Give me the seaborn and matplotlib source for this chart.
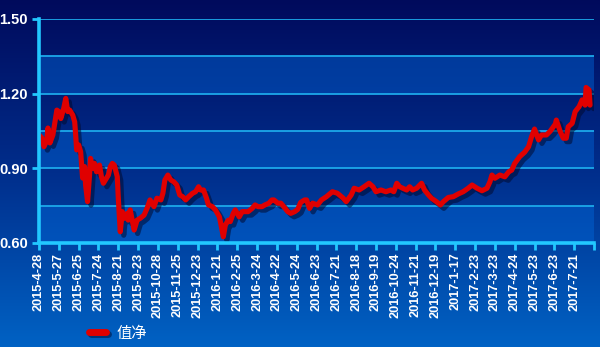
import numpy as np
import pandas as pd
import matplotlib
matplotlib.use("Agg")
import matplotlib.pyplot as plt
import seaborn as sns
from matplotlib import patheffects as pe
from matplotlib.colors import LinearSegmentedColormap
from matplotlib.lines import Line2D

# trading-day index since 2015-4-28
day = [0, 3, 5, 8, 9, 11, 14, 18, 20, 22, 25, 27, 29, 31, 34, 36, 37, 38, 40, 42,
       43, 44, 46, 47, 49, 51, 52, 54, 56, 58, 61, 63, 65, 68, 70, 72, 74, 76, 79, 80,
       82, 84, 86, 89, 90, 92, 96, 99, 102, 106, 109, 112, 116, 119, 123, 125, 127, 130, 133, 136,
       139, 142, 145, 148, 151, 155, 158, 161, 163, 166, 169, 171, 175, 178, 182, 183, 186, 188, 191, 193,
       196, 198, 202, 205, 208, 211, 215, 218, 221, 225, 228, 232, 235, 237, 241, 244, 247, 251, 254, 258,
       261, 264, 268, 270, 273, 276, 281, 285, 290, 296, 301, 307, 310, 315, 318, 323, 328, 333, 337, 340,
       345, 350, 355, 358, 361, 364, 367, 371, 374, 377, 381, 386, 389, 393, 396, 401, 405, 408, 413, 418,
       423, 428, 433, 437, 442, 447, 452, 455, 457, 460, 465, 470, 474, 477, 480, 485, 490, 494, 497, 500,
       504, 507, 512, 516, 521, 522, 526, 529, 532, 534, 538, 541, 545, 548, 551, 552, 555, 556]
nav = [1.034, 1.022, 0.987, 1.014, 1.062, 1.002, 1.034, 1.134, 1.128, 1.100, 1.142, 1.181, 1.128, 1.134, 1.114, 1.087, 1.034, 0.974, 0.994, 0.967,
       0.913, 0.861, 0.907, 0.833, 0.766, 0.873, 0.940, 0.900, 0.920, 0.886, 0.913, 0.866, 0.840, 0.860, 0.873, 0.907, 0.920, 0.913, 0.866, 0.781,
       0.645, 0.726, 0.699, 0.719, 0.692, 0.733, 0.652, 0.692, 0.699, 0.712, 0.739, 0.773, 0.746, 0.780, 0.773, 0.800, 0.853, 0.873, 0.853, 0.846,
       0.833, 0.793, 0.786, 0.773, 0.786, 0.800, 0.806, 0.826, 0.813, 0.813, 0.780, 0.753, 0.746, 0.733, 0.705, 0.686, 0.625, 0.672, 0.692, 0.686,
       0.719, 0.733, 0.705, 0.726, 0.726, 0.726, 0.739, 0.753, 0.746, 0.746, 0.753, 0.760, 0.773, 0.773, 0.760, 0.760, 0.746, 0.726, 0.719, 0.726,
       0.735, 0.763, 0.773, 0.773, 0.739, 0.760, 0.753, 0.773, 0.786, 0.806, 0.800, 0.780, 0.766, 0.793, 0.820, 0.813, 0.826, 0.840, 0.826, 0.806,
       0.813, 0.806, 0.813, 0.806, 0.840, 0.826, 0.820, 0.813, 0.826, 0.813, 0.820, 0.840, 0.813, 0.793, 0.780, 0.766, 0.753, 0.766, 0.783, 0.786,
       0.797, 0.806, 0.820, 0.833, 0.820, 0.810, 0.820, 0.846, 0.873, 0.860, 0.873, 0.866, 0.886, 0.893, 0.920, 0.947, 0.965, 0.987, 1.027, 1.058,
       1.014, 1.034, 1.034, 1.050, 1.078, 1.094, 1.047, 1.021, 1.021, 1.067, 1.081, 1.128, 1.148, 1.175, 1.154, 1.225, 1.215, 1.154]

tick_labels = ["2015-4-28", "2015-5-27", "2015-6-25", "2015-7-24", "2015-8-21", "2015-9-23",
               "2015-10-28", "2015-11-25", "2015-12-23", "2016-1-21", "2016-2-25", "2016-3-24",
               "2016-4-22", "2016-5-24", "2016-6-23", "2016-7-21", "2016-8-18", "2016-9-19",
               "2016-10-24", "2016-11-21", "2016-12-19", "2017-1-17", "2017-2-23", "2017-3-23",
               "2017-4-24", "2017-5-23", "2017-6-23", "2017-7-21"]
y_labels = ["0.60", "0.90", "1.20", "1.50"]
series_name = "值净"

sns.set_theme(style="white")
plt.rcParams['font.family'] = ['Liberation Sans', 'Noto Sans CJK SC', 'DejaVu Sans']

fig = plt.figure(figsize=(6, 3.47), dpi=100)

# background gradient
bg = fig.add_axes([0, 0, 1, 1], zorder=-10)
grad = np.linspace(0, 1, 256).reshape(-1, 1)
cmap = LinearSegmentedColormap.from_list('bg', ['#000a5c', '#012e8c', '#0062c4'])
bg.imshow(grad, aspect='auto', cmap=cmap, extent=[0, 1, 0, 1], origin='upper')
bg.set_xlim(0, 1); bg.set_ylim(0, 1)
bg.axis('off')

ax = fig.add_axes([39 / 600, 1 - 243 / 347, (594 - 39) / 600, (243 - 19) / 347])
ax.patch.set_alpha(0)

step = 20
n_ticks = len(tick_labels) + 1
xmax = step * (n_ticks - 1)

# alternating bands + gridlines
levels = np.round(np.arange(0.60, 1.5001, 0.15), 2)
for i, lo in enumerate(levels[:-1]):
    if i % 2 == 0:
        ax.axhspan(lo, lo + 0.15, color='#0066d8', alpha=0.45, lw=0, zorder=0)
for lv in levels:
    ax.axhline(lv, color='#1ca8ea', lw=1.3, zorder=1)

df = pd.DataFrame({'day': day, 'nav': nav, 'series': series_name})
sns.lineplot(data=df, x='day', y='nav', hue='series', palette=['#e00000'], lw=3.7,
             ax=ax, legend=False, zorder=3)
for ln in ax.get_lines():
    if ln.get_color() in ('#e00000',):
        ln.set_solid_joinstyle('round')
        ln.set_solid_capstyle('round')
        ln.set_path_effects([pe.SimpleLineShadow(offset=(2.5, -2.5), shadow_color='#000a30', alpha=0.55),
                             pe.Normal()])

ax.set_xlim(0, xmax)
ax.set_ylim(0.60, 1.50)
ax.set_xticks(np.arange(0, xmax + 1, step))
ax.set_xticklabels(tick_labels + [""], rotation=90, fontweight='bold')
ax.set_yticks([0.60, 0.90, 1.20, 1.50])
ax.set_yticklabels(y_labels, fontweight='bold')
ax.set_xlabel("")
ax.set_ylabel("")
ax.tick_params(axis='x', length=5, width=2, color='#22c8ff', direction='out', pad=2,
               labelsize=9.2, labelcolor='white', bottom=True)
ax.tick_params(axis='y', length=5, width=2, color='#22c8ff', direction='out', pad=3,
               labelsize=10.5, labelcolor='white', left=True)
for s in ['top', 'right']:
    ax.spines[s].set_visible(False)
for s in ['left', 'bottom']:
    ax.spines[s].set_color('#22c8ff')
    ax.spines[s].set_linewidth(2.6)
    ax.spines[s].set_zorder(4)

handle = Line2D([0], [0], color='#e00000', lw=5, solid_capstyle='round',
                path_effects=[pe.SimpleLineShadow(offset=(1.5, -1.5), shadow_color='#000a30', alpha=0.5), pe.Normal()])
leg = fig.legend([handle], [series_name], loc='center left', bbox_to_anchor=(0.148, 0.04),
                 frameon=False, borderpad=0, borderaxespad=0, handlelength=1.1, handletextpad=0.7,
                 prop={'family': ['Noto Sans CJK SC', 'DejaVu Sans'], 'size': 11})
for t in leg.get_texts():
    t.set_color('white')

fig.savefig('out.png', dpi=100)
